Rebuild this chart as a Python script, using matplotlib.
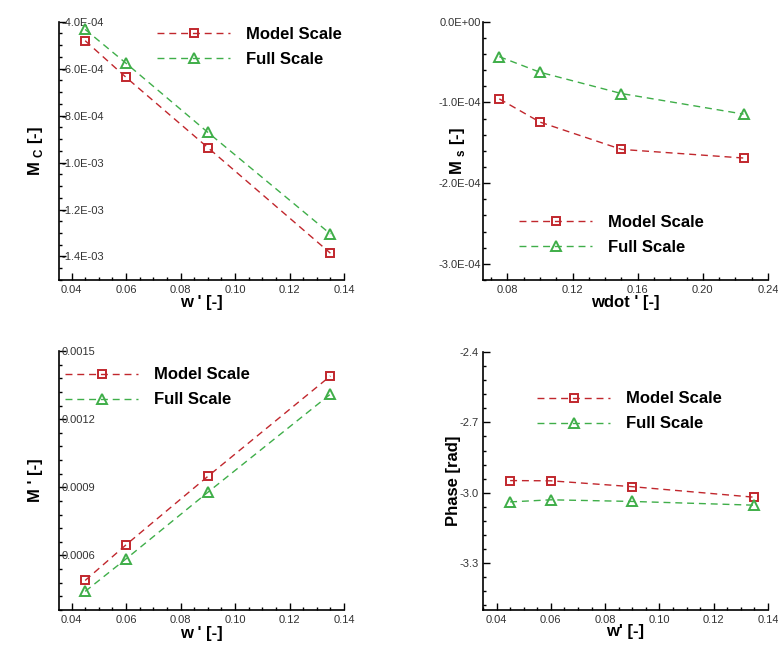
import matplotlib
matplotlib.use("Agg")
import matplotlib.pyplot as plt
from matplotlib.ticker import MultipleLocator, FuncFormatter

plt.rcParams['font.family'] = ['Liberation Sans', 'DejaVu Sans']
plt.rcParams['mathtext.fontset'] = 'custom'
plt.rcParams['mathtext.rm'] = 'Liberation Sans'
plt.rcParams['mathtext.bf'] = 'Liberation Sans:bold'

# data
w = [0.045, 0.06, 0.09, 0.135]
wdot = [0.075, 0.10, 0.15, 0.225]

mc_model = [-4.81e-4, -6.37e-4, -9.36e-4, -1.386e-3]
mc_full = [-4.33e-4, -5.77e-4, -8.71e-4, -1.304e-3]

ms_model = [-0.956e-4, -1.244e-4, -1.582e-4, -1.689e-4]
ms_full = [-0.433e-4, -0.626e-4, -0.890e-4, -1.145e-4]

m_model = [0.00049, 0.000647, 0.000948, 0.00139]
m_full = [0.000442, 0.000585, 0.000878, 0.00131]

ph_model = [-2.948, -2.949, -2.974, -3.019]
ph_full = [-3.039, -3.030, -3.037, -3.053]

labels = ['Model Scale', 'Full Scale']
RED = '#c1272d'
GREEN = '#3fae49'

fig = plt.figure(figsize=(7.78, 6.46), dpi=100)

axes_pos = [
    [0.0762, 0.5666, 0.366, 0.3998],
    [0.6208, 0.5666, 0.3663, 0.3998],
    [0.0762, 0.0557, 0.366, 0.401],
    [0.6208, 0.0557, 0.3663, 0.3993],
]

panels = [
    dict(x=w, m=mc_model, f=mc_full, xlim=(0.0355, 0.14), ylim=(-1.5e-3, -4e-4),
         xmaj=0.02, xmin=0.005, ymaj=2e-4, ymin=5e-5,
         yfmt=lambda v, p: f'{v:.1E}', inside=True, ypad=-1.5,
         xlabel="w ' [-]", ylabel=r"M $_{\mathbf{C}}$ [-]",
         leg=(0.343, 0.902), xl=-0.058, yl=-0.05),
    dict(x=wdot, m=ms_model, f=ms_full, xlim=(0.065, 0.24), ylim=(-3.2e-4, 0),
         xmaj=0.04, xmin=0.01, ymaj=1e-4, ymin=2e-5,
         yfmt=lambda v, p: f'{v:.1E}', inside=False, ypad=1.5,
         xlabel="wdot ' [-]", ylabel=r"M $_{\mathbf{s}}$ [-]",
         leg=(0.126, 0.176), xl=-0.058, yl=-0.057),
    dict(x=w, m=m_model, f=m_full, xlim=(0.0355, 0.14), ylim=(0.00036, 0.0015),
         xmaj=0.02, xmin=0.005, ymaj=0.0003, ymin=0.00006,
         yfmt=lambda v, p: f'{v:.4f}', inside=True, ypad=-1.5,
         xlabel="w ' [-]", ylabel="M ' [-]",
         leg=(0.02, 0.859), xl=-0.062, yl=-0.058),
    dict(x=w, m=ph_model, f=ph_full, xlim=(0.035, 0.14), ylim=(-3.5, -2.4),
         xmaj=0.02, xmin=0.005, ymaj=0.3, ymin=0.06,
         yfmt=lambda v, p: f'{v:.1f}', inside=False, ypad=3.0,
         xlabel="w' [-]", ylabel="Phase [rad]",
         leg=(0.19, 0.770), xl=-0.055, yl=-0.078),
]

for pos, p in zip(axes_pos, panels):
    ax = fig.add_axes(pos)
    ax.plot(p['x'], p['m'], color=RED, lw=1.0, ls=(0, (5, 3.5)),
            marker='s', ms=6, mfc='none', mec=RED, mew=1.4, label=labels[0])
    ax.plot(p['x'], p['f'], color=GREEN, lw=1.0, ls=(0, (5, 3.5)),
            marker='^', ms=7, mfc='none', mec=GREEN, mew=1.4, label=labels[1])
    ax.set_xlim(*p['xlim'])
    ax.set_ylim(*p['ylim'])

    for s in ['top', 'right']:
        ax.spines[s].set_visible(False)
    for s in ['left', 'bottom']:
        ax.spines[s].set_linewidth(1.2)

    ax.xaxis.set_major_locator(MultipleLocator(p['xmaj']))
    ax.xaxis.set_minor_locator(MultipleLocator(p['xmin']))
    ax.yaxis.set_major_locator(MultipleLocator(p['ymaj']))
    ax.yaxis.set_minor_locator(MultipleLocator(p['ymin']))
    ax.xaxis.set_major_formatter(FuncFormatter(lambda v, q: f'{v:.2f}'))
    ax.yaxis.set_major_formatter(FuncFormatter(p['yfmt']))

    ax.tick_params(which='both', direction='in', labelsize=8, labelcolor='#333333', width=1.0)
    ax.tick_params(which='major', length=5)
    ax.tick_params(which='minor', length=2.5)
    ax.tick_params(axis='y', pad=p['ypad'])
    if p['inside']:
        for t in ax.get_yticklabels():
            t.set_horizontalalignment('left')

    ax.set_xlabel(p['xlabel'], fontsize=12, fontweight='bold')
    ax.set_ylabel(p['ylabel'], fontsize=12, fontweight='bold')
    ax.xaxis.set_label_coords(0.5, p['xl'])
    ax.yaxis.set_label_coords(p['yl'], 0.5)

    leg = ax.legend(loc='center left', bbox_to_anchor=p['leg'], frameon=False,
                    numpoints=1, handlelength=4.4, handletextpad=0.95,
                    labelspacing=0.6, borderpad=0, borderaxespad=0,
                    prop={'size': 12, 'weight': 'bold'})

fig.savefig('out.png', dpi=100)
